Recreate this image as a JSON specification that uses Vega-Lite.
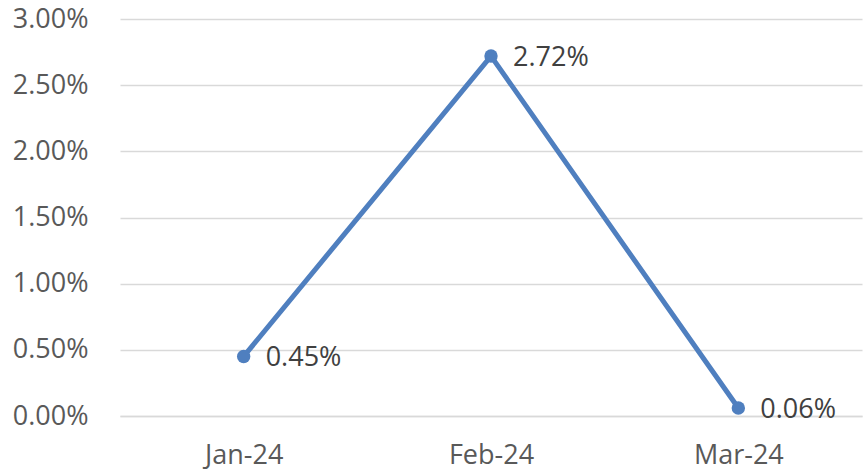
{
  "$schema": "https://vega.github.io/schema/vega-lite/v6.json",
  "width": 742,
  "height": 397,
  "autosize": {"type": "none"},
  "padding": {"left": 120, "top": 19, "right": 2, "bottom": 57},
  "background": "white",
  "config": {
    "view": {"stroke": null},
    "font": "Open Sans"
  },
  "data": {
    "values": [
      {"month": "Jan-24", "value": 0.0045},
      {"month": "Feb-24", "value": 0.0272},
      {"month": "Mar-24", "value": 0.0006}
    ]
  },
  "encoding": {
    "x": {
      "field": "month",
      "type": "ordinal",
      "sort": null,
      "scale": {"type": "point", "padding": 0.5},
      "axis": {
        "title": null,
        "labelAngle": 0,
        "labelFontSize": 27,
        "labelColor": "#595959",
        "labelPadding": 26,
        "ticks": false,
        "domain": true,
        "domainColor": "#d9d9d9",
        "domainWidth": 1.5
      }
    },
    "y": {
      "field": "value",
      "type": "quantitative",
      "scale": {"domain": [0, 0.03], "nice": false},
      "axis": {
        "title": null,
        "format": ".2%",
        "values": [0, 0.005, 0.01, 0.015, 0.02, 0.025, 0.03],
        "labelFontSize": 27,
        "labelColor": "#595959",
        "labelPadding": 32,
        "ticks": false,
        "domain": false,
        "gridColor": "#d9d9d9",
        "gridWidth": 1.5
      }
    }
  },
  "layer": [
    {
      "mark": {"type": "line", "color": "#4f7fbf", "strokeWidth": 5, "point": {"filled": true, "size": 180, "color": "#4f7fbf"}}
    },
    {
      "mark": {"type": "text", "align": "left", "baseline": "middle", "dx": 22, "dy": 2, "fontSize": 27, "color": "#404040"},
      "encoding": {
        "text": {"field": "value", "type": "quantitative", "format": ".2%"}
      }
    }
  ]
}
